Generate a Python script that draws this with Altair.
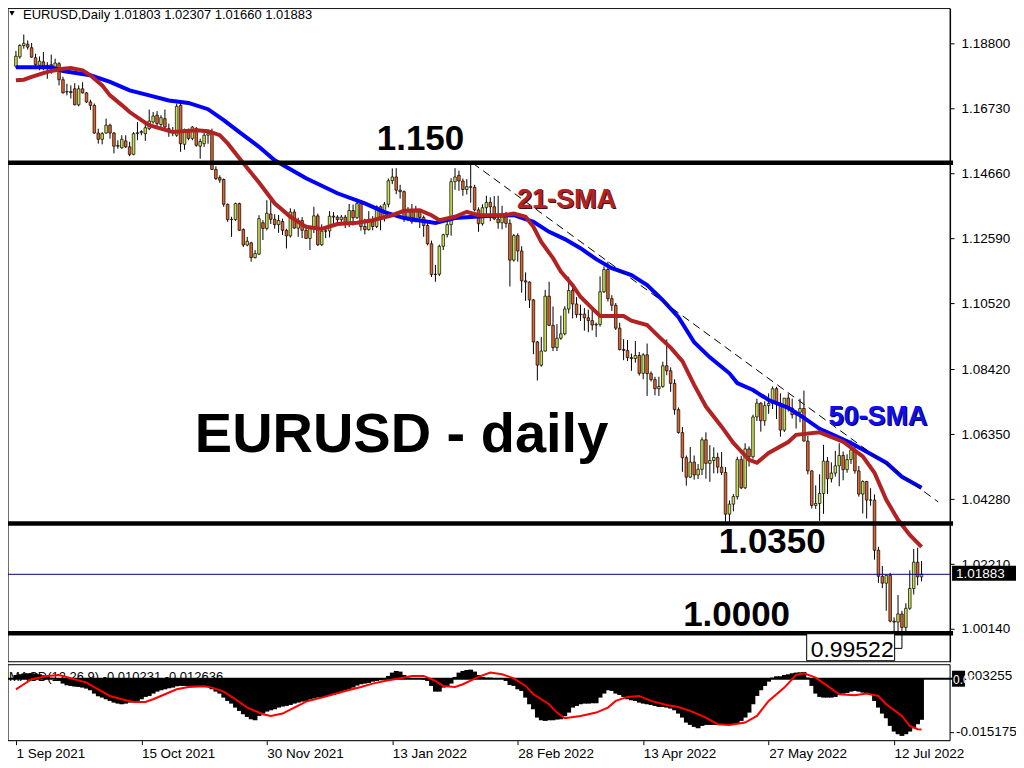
import altair as alt
import pandas as pd

# ---------------- data ----------------
date_labels = ['1 Sep 2021', '15 Oct 2021', '30 Nov 2021', '13 Jan 2022',
               '28 Feb 2022', '13 Apr 2022', '27 May 2022', '12 Jul 2022']
date_tick_idx = [0, 32, 64, 96, 128, 160, 192, 224]

opens = [
 1.1808,1.1838,1.1874,1.1878,1.1867,1.1835,1.1811,1.1822,1.1811,1.1808,
 1.1805,1.1816,1.1765,1.1726,1.1727,1.1736,1.1685,1.1736,1.1723,1.1694,
 1.1683,1.1595,1.1575,1.1595,1.1620,1.1595,1.1553,1.1548,1.1570,1.1551,
 1.1527,1.1593,1.1596,1.1593,1.1609,1.1630,1.1652,1.1622,1.1641,1.1609,
 1.1599,1.1588,1.1683,1.1559,1.1604,1.1578,1.1609,1.1553,1.1561,1.1588,
 1.1593,1.1479,1.1453,1.1447,1.1368,1.1319,1.1319,1.1370,1.1287,1.1238,
 1.1245,1.1198,1.1209,1.1309,1.1291,1.1337,1.1320,1.1303,1.1313,1.1285,
 1.1267,1.1343,1.1292,1.1316,1.1285,1.1259,1.1290,1.1331,1.1239,1.1282,
 1.1283,1.1330,1.1327,1.1319,1.1327,1.1310,1.1348,1.1325,1.1370,1.1297,
 1.1287,1.1312,1.1297,1.1360,1.1326,1.1368,1.1443,1.1455,1.1413,1.1408,
 1.1325,1.1344,1.1312,1.1344,1.1326,1.1300,1.1242,1.1144,1.1145,1.1234,
 1.1271,1.1303,1.1440,1.1460,1.1442,1.1415,1.1424,1.1422,1.1350,1.1306,
 1.1357,1.1374,1.1360,1.1321,1.1309,1.1329,1.1307,1.1190,1.1268,1.1219,
 1.1124,1.1120,1.1063,1.0929,1.0855,1.0900,1.1075,1.0982,1.0911,1.0941,
 1.0955,1.1034,1.1093,1.1050,1.1016,1.1018,1.1006,1.0997,1.0983,1.0985,
 1.1089,1.1160,1.1067,1.1046,1.0973,1.0905,1.0902,1.0879,1.0876,1.0886,
 1.0829,1.0888,1.0828,1.0809,1.0780,1.0787,1.0853,1.0837,1.0797,1.0713,
 1.0640,1.0560,1.0498,1.0546,1.0505,1.0523,1.0617,1.0542,1.0551,1.0561,
 1.0530,1.0513,1.0380,1.0412,1.0436,1.0554,1.0464,1.0588,1.0563,1.0690,
 1.0734,1.0678,1.0726,1.0733,1.0780,1.0734,1.0648,1.0750,1.0718,1.0697,
 1.0705,1.0717,1.0613,1.0518,1.0408,1.0414,1.0446,1.0549,1.0493,1.0511,
 1.0534,1.0567,1.0522,1.0554,1.0585,1.0518,1.0444,1.0484,1.0425,1.0425,
 1.0265,1.0182,1.0160,1.0185,1.0039,1.0036,1.0062,1.0019,1.0080,1.0143,
 1.0227,1.01803]

highs = [
 1.1857,1.1878,1.1909,1.1890,1.1882,1.1848,1.1839,1.1853,1.1821,1.1845,
 1.1832,1.1821,1.1774,1.1752,1.1747,1.1754,1.1747,1.1757,1.1726,1.1701,
 1.1689,1.1609,1.1598,1.1641,1.1625,1.1598,1.1572,1.1588,1.1588,1.1567,
 1.1598,1.1630,1.1604,1.1625,1.1670,1.1662,1.1665,1.1652,1.1670,1.1625,
 1.1614,1.1689,1.1692,1.1609,1.1609,1.1617,1.1614,1.1577,1.1598,1.1604,
 1.1609,1.1489,1.1460,1.1450,1.1370,1.1328,1.1373,1.1373,1.1291,1.1264,
 1.1248,1.1222,1.1333,1.1317,1.1381,1.1383,1.1336,1.1334,1.1322,1.1290,
 1.1355,1.1352,1.1325,1.1327,1.1303,1.1290,1.1360,1.1338,1.1304,1.1299,
 1.1346,1.1343,1.1333,1.1334,1.1334,1.1369,1.1367,1.1386,1.1376,1.1322,
 1.1346,1.1330,1.1364,1.1364,1.1375,1.1450,1.1482,1.1483,1.1430,1.1412,
 1.1359,1.1369,1.1363,1.1346,1.1332,1.1308,1.1252,1.1175,1.1239,1.1274,
 1.1316,1.1451,1.1483,1.1475,1.1450,1.1448,1.1495,1.1430,1.1358,1.1368,
 1.1395,1.1390,1.1394,1.1395,1.1363,1.1344,1.1320,1.1273,1.1275,1.1234,
 1.1151,1.1122,1.1066,1.0932,1.0945,1.1095,1.1121,1.1042,1.0986,1.1013,
 1.1043,1.1137,1.1108,1.1072,1.1048,1.1037,1.1032,1.1036,1.0991,1.1138,
 1.1170,1.1185,1.1078,1.1053,1.0990,1.0938,1.0935,1.0892,1.0932,1.0897,
 1.0893,1.0924,1.0835,1.0818,1.0818,1.0866,1.0937,1.0848,1.0810,1.0720,
 1.0658,1.0567,1.0594,1.0567,1.0540,1.0625,1.0641,1.0600,1.0593,1.0576,
 1.0578,1.0530,1.0424,1.0444,1.0563,1.0566,1.0606,1.0596,1.0697,1.0748,
 1.0737,1.0740,1.0765,1.0787,1.0786,1.0765,1.0750,1.0764,1.0748,1.0710,
 1.0748,1.0774,1.0630,1.0520,1.0472,1.0507,1.0601,1.0562,1.0545,1.0582,
 1.0606,1.0580,1.0571,1.0615,1.0606,1.0534,1.0488,1.0486,1.0463,1.0443,
 1.0276,1.0215,1.0186,1.0193,1.0051,1.0122,1.0072,1.0096,1.0201,1.0269,
 1.0273,1.02307]

lows = [
 1.1802,1.1832,1.1864,1.1861,1.1835,1.1805,1.1795,1.1795,1.1768,1.1784,
 1.1795,1.1747,1.1721,1.1715,1.1705,1.1683,1.1680,1.1721,1.1691,1.1669,
 1.1593,1.1561,1.1559,1.1593,1.1577,1.1530,1.1545,1.1545,1.1547,1.1521,
 1.1524,1.1572,1.1588,1.1570,1.1604,1.1625,1.1614,1.1614,1.1609,1.1583,
 1.1585,1.1583,1.1535,1.1542,1.1572,1.1572,1.1551,1.1513,1.1551,1.1561,
 1.1477,1.1445,1.1436,1.1360,1.1312,1.1264,1.1315,1.1283,1.1232,1.1234,
 1.1185,1.1195,1.1206,1.1254,1.1285,1.1305,1.1290,1.1277,1.1270,1.1227,
 1.1262,1.1290,1.1264,1.1260,1.1258,1.1222,1.1276,1.1235,1.1235,1.1260,
 1.1262,1.1305,1.1305,1.1310,1.1292,1.1295,1.1300,1.1321,1.1284,1.1272,
 1.1284,1.1285,1.1292,1.1285,1.1313,1.1358,1.1432,1.1400,1.1386,1.1312,
 1.1314,1.1306,1.1312,1.1292,1.1264,1.1237,1.1136,1.1121,1.1139,1.1222,
 1.1262,1.1268,1.1414,1.1411,1.1395,1.1399,1.1373,1.1345,1.1280,1.1300,
 1.1334,1.1314,1.1318,1.1290,1.1288,1.1293,1.1106,1.1185,1.1185,1.1086,
 1.1060,1.1037,1.0890,1.0806,1.0850,1.0898,1.0980,1.0900,1.0900,1.0936,
 1.0950,1.1020,1.1004,1.1006,1.0996,1.0965,1.0960,1.0966,1.0945,1.0978,
 1.1085,1.1058,1.1028,1.0967,1.0902,1.0871,1.0868,1.0837,1.0863,1.0822,
 1.0810,1.0757,1.0803,1.0759,1.0757,1.0783,1.0823,1.0770,1.0697,1.0637,
 1.0515,1.0471,1.0496,1.0490,1.0492,1.0505,1.0493,1.0483,1.0510,1.0510,
 1.0505,1.0354,1.0350,1.0389,1.0427,1.0460,1.0460,1.0532,1.0557,1.0677,
 1.0643,1.0662,1.0700,1.0715,1.0683,1.0627,1.0642,1.0707,1.0685,1.0653,
 1.0673,1.0612,1.0507,1.0398,1.0397,1.0359,1.0381,1.0444,1.0481,1.0500,
 1.0469,1.0488,1.0512,1.0540,1.0509,1.0436,1.0382,1.0366,1.0407,1.0235,
 1.0161,1.0144,1.0072,1.0035,0.9999,0.9998,0.9952,1.0007,1.0075,1.0124,
 1.0153,1.01660]

closes = [
 1.1840,1.1874,1.1881,1.1869,1.1837,1.1813,1.1824,1.1809,1.1808,1.1813,
 1.1818,1.1765,1.1723,1.1727,1.1724,1.1685,1.1736,1.1723,1.1694,1.1683,
 1.1595,1.1575,1.1593,1.1620,1.1595,1.1553,1.1555,1.1575,1.1551,1.1527,
 1.1593,1.1596,1.1600,1.1612,1.1633,1.1649,1.1625,1.1644,1.1614,1.1599,
 1.1603,1.1680,1.1561,1.1604,1.1578,1.1614,1.1556,1.1568,1.1588,1.1593,
 1.1479,1.1450,1.1445,1.1368,1.1319,1.1320,1.1370,1.1285,1.1238,1.1250,
 1.1198,1.1211,1.1322,1.1291,1.1339,1.1320,1.1303,1.1316,1.1285,1.1267,
 1.1343,1.1292,1.1316,1.1285,1.1259,1.1290,1.1331,1.1239,1.1282,1.1283,
 1.1330,1.1327,1.1319,1.1327,1.1310,1.1348,1.1325,1.1370,1.1297,1.1287,
 1.1312,1.1297,1.1360,1.1326,1.1368,1.1443,1.1455,1.1413,1.1408,1.1325,
 1.1344,1.1312,1.1344,1.1326,1.1300,1.1242,1.1144,1.1145,1.1234,1.1271,
 1.1303,1.1440,1.1455,1.1442,1.1415,1.1424,1.1422,1.1350,1.1306,1.1357,
 1.1374,1.1360,1.1321,1.1309,1.1329,1.1307,1.1190,1.1268,1.1219,1.1124,
 1.1120,1.1063,1.0929,1.0855,1.0900,1.1075,1.0982,1.0911,1.0941,1.0955,
 1.1034,1.1093,1.1050,1.1016,1.1018,1.1006,1.0997,1.0983,1.0985,1.1089,
 1.1160,1.1067,1.1046,1.0973,1.0905,1.0902,1.0879,1.0876,1.0886,1.0829,
 1.0888,1.0828,1.0809,1.0780,1.0787,1.0853,1.0837,1.0797,1.0713,1.0640,
 1.0560,1.0498,1.0546,1.0505,1.0523,1.0617,1.0542,1.0551,1.0561,1.0530,
 1.0513,1.0380,1.0412,1.0436,1.0554,1.0464,1.0588,1.0563,1.0690,1.0734,
 1.0678,1.0726,1.0733,1.0780,1.0734,1.0648,1.0750,1.0718,1.0697,1.0705,
 1.0717,1.0613,1.0518,1.0408,1.0414,1.0446,1.0549,1.0493,1.0511,1.0534,
 1.0567,1.0522,1.0554,1.0585,1.0518,1.0444,1.0484,1.0425,1.0425,1.0265,
 1.0182,1.0160,1.0185,1.0039,1.0036,1.0062,1.0019,1.0080,1.0143,1.0227,
 1.0180,1.01883]

sma21_idx = [0,2,4,7,9,12,14,17,19,22,24,27,29,32,34,37,40,46,49,52,54,57,62,66,70,74,78,82,87,91,
             96,99,103,106,108,112,115,118,124,127,130,132,134,137,139,142,144,147,149,152,
             155,157,161,164,167,170,173,176,180,183,187,189,192,197,199,205,211,216,219,222,225,228,231]
sma21_val = [1.1763,1.1765,1.1774,1.1786,1.1793,1.1800,1.1802,1.1795,1.1779,1.1747,
             1.1715,1.1684,1.1662,1.1636,1.1620,1.1609,1.1598,1.1604,1.1601,1.1588,
             1.1562,1.1515,1.1437,1.1371,1.1328,1.1296,1.1289,1.1305,1.1309,1.1317,
             1.1333,1.1347,1.1349,1.1333,1.1317,1.1328,1.1344,1.1333,1.1333,1.1338,
             1.1328,1.1296,1.1248,1.1196,1.1153,1.1110,1.1073,1.1036,1.1012,1.1012,
             1.1012,1.0997,1.0983,1.0946,1.0911,1.0868,1.0792,1.0723,1.0659,1.0607,
             1.0553,1.0544,1.0575,1.0610,1.0633,1.0641,1.0611,1.0564,1.0512,1.0426,
             1.0362,1.0314,1.0276]

sma50_idx = [0,9,12,19,24,29,34,39,44,49,53,57,62,66,74,82,89,94,99,107,
             112,119,127,132,136,140,144,148,152,157,161,165,169,173,177,182,184,188,192,197,
             201,205,209,213,217,222,226,231]
sma50_val = [1.1805,1.1805,1.1793,1.1779,1.1758,1.1731,1.1715,1.1699,1.1691,1.1671,
             1.1636,1.1598,1.1551,1.1508,1.1451,1.1403,1.1371,1.1343,1.1324,1.1308,
             1.1324,1.1330,1.1333,1.1312,1.1280,1.1257,1.1228,1.1193,1.1164,1.1142,
             1.1110,1.1062,1.1008,1.0928,1.0880,1.0829,1.0798,1.0776,1.0744,1.0719,
             1.0687,1.0652,1.0630,1.0607,1.0579,1.0544,1.0499,1.0464]

macd_hist = [
 0.00095,0.00112,0.00129,0.00137,0.00137,0.00129,0.00112,0.00087,0.00062,0.00029,
 0.00004,-0.00054,-0.00120,-0.00162,-0.00178,-0.00195,-0.00203,-0.00220,-0.00245,-0.00286,
 -0.00369,-0.00436,-0.00469,-0.00511,-0.00552,-0.00594,-0.00619,-0.00635,-0.00619,-0.00594,
 -0.00569,-0.00552,-0.00511,-0.00452,-0.00428,-0.00369,-0.00320,-0.00286,-0.00262,-0.00237,
 -0.00220,-0.00187,-0.00178,-0.00178,-0.00187,-0.00178,-0.00178,-0.00187,-0.00187,-0.00203,
 -0.00262,-0.00320,-0.00369,-0.00469,-0.00552,-0.00619,-0.00718,-0.00801,-0.00884,-0.00951,
 -0.01009,-0.01034,-0.00926,-0.00868,-0.00818,-0.00785,-0.00760,-0.00718,-0.00693,-0.00677,
 -0.00652,-0.00619,-0.00594,-0.00569,-0.00552,-0.00519,-0.00494,-0.00469,-0.00469,-0.00444,
 -0.00419,-0.00403,-0.00369,-0.00320,-0.00286,-0.00253,-0.00220,-0.00170,-0.00137,-0.00120,
 -0.00104,-0.00071,-0.00054,-0.00037,-0.00021,0.00071,0.00154,0.00195,0.00179,0.00095,
 0.00029,0.00012,0.00004,-0.00004,-0.00021,-0.00054,-0.00178,-0.00320,-0.00320,-0.00220,
 -0.00203,-0.00120,0.00046,0.00154,0.00195,0.00220,0.00228,0.00179,0.00095,0.00046,
 0.00029,0.00029,0.00012,-0.00004,-0.00004,-0.00054,-0.00154,-0.00178,-0.00262,-0.00303,
 -0.00469,-0.00635,-0.00760,-0.00967,-0.01034,-0.01050,-0.01034,-0.01034,-0.01017,-0.01009,
 -0.00934,-0.00843,-0.00718,-0.00677,-0.00635,-0.00619,-0.00619,-0.00610,-0.00610,-0.00469,
 -0.00369,-0.00286,-0.00303,-0.00369,-0.00403,-0.00452,-0.00511,-0.00535,-0.00552,-0.00594,
 -0.00619,-0.00635,-0.00652,-0.00677,-0.00702,-0.00702,-0.00718,-0.00743,-0.00785,-0.00868,
 -0.00967,-0.01092,-0.01150,-0.01200,-0.01233,-0.01175,-0.01150,-0.01150,-0.01150,-0.01150,
 -0.01150,-0.01150,-0.01150,-0.01150,-0.01117,-0.01050,-0.00967,-0.00843,-0.00635,-0.00428,
 -0.00286,-0.00178,-0.00071,0.00029,0.00062,0.00062,0.00095,0.00112,0.00137,0.00154,
 0.00162,0.00170,0.00029,-0.00178,-0.00369,-0.00452,-0.00469,-0.00469,-0.00469,-0.00452,
 -0.00403,-0.00369,-0.00353,-0.00320,-0.00303,-0.00320,-0.00345,-0.00369,-0.00403,-0.00552,
 -0.00718,-0.00868,-0.00984,-0.01175,-0.01316,-0.01382,-0.01424,-0.01382,-0.01316,-0.01233,
 -0.01133,-0.01023]

signal_idx = [0,2,4,8,11,14,18,21,24,28,30,33,35,38,41,44,48,50,53,56,
              59,63,65,68,71,74,78,81,84,88,91,94,98,101,104,107,109,112,114,118,
              121,124,127,130,132,136,138,140,144,148,151,153,156,159,162,166,169,172,176,179,
              182,186,189,192,196,199,201,204,207,210,214,217,220,222,226,228,230,231]
signal_val = [-0.00262,-0.00137,-0.00012,0.00071,0.00095,0.00012,-0.00095,-0.00262,-0.00428,-0.00535,
              -0.00577,-0.00577,-0.00511,-0.00386,-0.00262,-0.00203,-0.00187,-0.00220,-0.00320,-0.00511,
              -0.00718,-0.00884,-0.00926,-0.00868,-0.00718,-0.00569,-0.00469,-0.00386,-0.00303,-0.00203,
              -0.00120,-0.00054,0.00012,0.00071,0.00071,-0.00054,-0.00178,-0.00203,-0.00137,0.00046,
              0.00154,0.00112,0.00012,-0.00178,-0.00386,-0.00635,-0.00843,-0.00984,-0.00926,-0.00843,
              -0.00718,-0.00552,-0.00452,-0.00428,-0.00552,-0.00652,-0.00702,-0.00801,-0.00967,-0.01133,
              -0.01150,-0.01092,-0.00926,-0.00552,-0.00220,0.00095,0.00137,0.00029,-0.00178,-0.00386,
              -0.00411,-0.00369,-0.00428,-0.00635,-0.00926,-0.01175,-0.01258,-0.01264]

price_ticks = [1.18800, 1.16730, 1.14660, 1.12590, 1.10520, 1.08420, 1.06350, 1.04280, 1.02210, 1.00140]
level_prices = [1.150, 1.035, 1.000]
trend_idx = [116.5, 235.25]
trend_val = [1.1499, 1.0419]
last_price = 1.01883
low_price = 0.99522
macd_max = 0.003255
macd_min = -0.015175
header_text = "EURUSD,Daily  1.01803 1.02307 1.01660 1.01883"
macd_text = "MACD(12,26,9) -0.010231 -0.012636"

# ---------------- chart ----------------
FONT = "Liberation Sans"
BULL = "#cde052"
BEAR = "#e0642a"
W, H = 943, 733
MAIN_H = 654

candles = pd.DataFrame({"i": list(range(len(closes))), "o": opens, "h": highs,
                        "l": lows, "c": closes, "m": macd_hist})
candles["dir"] = ["up" if c >= o else "down" for o, c in zip(opens, closes)]

XS = alt.Scale(domain=[-0.75, 237.0], nice=False, zero=False)
YP = alt.Scale(domain=[0.99096, 1.19924], range=[MAIN_H, 0], nice=False, zero=False)
YM = alt.Scale(domain=[macd_min, macd_max], range=[732, 658], nice=False, zero=False)

label_expr = "[" + ",".join("'%s'" % s for s in date_labels) + "][round(datum.value / 32)]"
x_axis = alt.Axis(values=date_tick_idx, labelExpr=label_expr, labelAlign="left",
                  labelFont=FONT, labelFontSize=13.5, labelColor="black",
                  tickColor="black", tickSize=4, labelPadding=2, domain=False,
                  grid=False, title=None, labelOverlap=False, labelFlush=False)
price_axis = alt.Axis(orient="right", values=price_ticks, format=".5f",
                      labelFont=FONT, labelFontSize=13.5, labelColor="black",
                      tickColor="black", tickSize=4, labelPadding=7,
                      domainColor="black", grid=False, title=None,
                      labelOverlap=False, labelFlush=False)

wick = alt.Chart(candles).mark_rule(color="black", strokeWidth=1).encode(
    x=alt.X("i:Q", scale=XS, axis=x_axis),
    y=alt.Y("l:Q", scale=YP, axis=price_axis), y2="h:Q")
body = alt.Chart(candles).mark_bar(size=2.6, stroke="black", strokeWidth=0.7).encode(
    x=alt.X("i:Q", scale=XS), y=alt.Y("o:Q", scale=YP), y2="c:Q",
    fill=alt.Fill("dir:N", scale=alt.Scale(domain=["up", "down"], range=[BULL, BEAR]), legend=None))

sma50 = alt.Chart(pd.DataFrame({"i": sma50_idx, "v": sma50_val})).mark_line(
    color="#0000ff", strokeWidth=4).encode(x=alt.X("i:Q", scale=XS), y=alt.Y("v:Q", scale=YP))
sma21 = alt.Chart(pd.DataFrame({"i": sma21_idx, "v": sma21_val})).mark_line(
    color="#b22222", strokeWidth=4).encode(x=alt.X("i:Q", scale=XS), y=alt.Y("v:Q", scale=YP))
trend = alt.Chart(pd.DataFrame({"i": trend_idx, "v": trend_val})).mark_line(
    color="black", strokeWidth=1, strokeDash=[8, 5]).encode(
    x=alt.X("i:Q", scale=XS), y=alt.Y("v:Q", scale=YP))
levels = alt.Chart(pd.DataFrame({"p": level_prices})).mark_rule(
    color="black", strokeWidth=4.5).encode(
    y=alt.Y("p:Q", scale=YP), x=alt.value(0), x2=alt.value(946))
cur_line = alt.Chart(pd.DataFrame({"p": [last_price]})).mark_rule(
    color="#000080", strokeWidth=1).encode(
    y=alt.Y("p:Q", scale=YP), x=alt.value(0), x2=alt.value(943))


def label(text, i, p, size, color="black", weight="bold", shadow=None):
    layers = []
    if shadow:
        layers.append(alt.Chart(pd.DataFrame({"t": [text]})).mark_text(
            align="left", baseline="alphabetic", font=FONT, fontSize=size,
            fontWeight=weight, color=shadow, dx=1.2, dy=1.2).encode(
            x=alt.X(datum=i, scale=XS), y=alt.Y(datum=p, scale=YP), text="t:N"))
    layers.append(alt.Chart(pd.DataFrame({"t": [text]})).mark_text(
        align="left", baseline="alphabetic", font=FONT, fontSize=size,
        fontWeight=weight, color=color).encode(
        x=alt.X(datum=i, scale=XS), y=alt.Y(datum=p, scale=YP), text="t:N"))
    return layers


texts = []
texts += label("1.150", 92.03, 1.1540, 35)
texts += label("21-SMA", 127.83, 1.13555, 27, color="#b22222", shadow="#4a0d0d")
texts += label("EURUSD - daily", 45.64, 1.05784, 56)
texts += label("50-SMA", 207.25, 1.06644, 27, color="#1010ee", shadow="#000050")
texts += label("1.0350", 179.27, 1.02568, 35)
texts += label("1.0000", 170.19, 1.00243, 35)

low_box = alt.Chart(pd.DataFrame({"a": [0]})).mark_rect(
    fill="white", stroke="black", strokeWidth=1).encode(
    x=alt.X(datum=201.7, scale=XS), x2=alt.X2(datum=224.14),
    y=alt.Y(datum=0.99988, scale=YP), y2=alt.Y2(datum=0.99128))
low_link = alt.Chart(pd.DataFrame({"i": [224.14, 226.0], "v": [low_price, low_price]})).mark_line(
    color="black", strokeWidth=1).encode(x=alt.X("i:Q", scale=XS), y=alt.Y("v:Q", scale=YP))
low_text = label("%.5f" % low_price, 202.71, 0.99257, 23, weight="normal")

main = alt.layer(wick, body, sma50, sma21, trend, levels, cur_line,
                 *texts, low_box, low_link, *low_text)

# MACD panel
macd_label = alt.Chart(pd.DataFrame({"t": [macd_text]})).mark_text(
    align="left", baseline="alphabetic", font=FONT, fontSize=13, color="black").encode(
    x=alt.value(1), y=alt.value(673), text="t:N")
hist = alt.Chart(candles).mark_bar(size=4.8, color="black").encode(
    x=alt.X("i:Q", scale=XS), y=alt.Y("m:Q", scale=YM, axis=None), y2=alt.Y2(datum=0))
zero = alt.Chart(pd.DataFrame({"z": [0.0]})).mark_rule(color="black", strokeWidth=2).encode(
    y=alt.Y("z:Q", scale=YM, axis=None), x=alt.value(0), x2=alt.value(946))
signal = alt.Chart(pd.DataFrame({"i": signal_idx, "v": signal_val})).mark_line(
    color="#ff0000", strokeWidth=2).encode(
    x=alt.X("i:Q", scale=XS), y=alt.Y("v:Q", scale=YM, axis=None))
macd = alt.layer(macd_label, hist, zero, signal)

# decorations: panel frames, header, price tags
one = pd.DataFrame({"a": [0]})
frame_main = alt.Chart(one).mark_rect(fillOpacity=0, stroke="black", strokeWidth=1).encode(
    x=alt.value(0), x2=alt.value(W), y=alt.value(0), y2=alt.value(MAIN_H))
frame_macd = alt.Chart(one).mark_rect(fillOpacity=0, stroke="black", strokeWidth=1).encode(
    x=alt.value(0), x2=alt.value(W), y=alt.value(657), y2=alt.value(H))
header = alt.Chart(pd.DataFrame({"t": [header_text]})).mark_text(
    align="left", baseline="alphabetic", font=FONT, fontSize=13, color="black").encode(
    x=alt.value(15), y=alt.value(11), text="t:N")
tri = alt.Chart(one).mark_point(shape="triangle-down", filled=True, color="black",
                                size=28, opacity=1).encode(x=alt.value(4), y=alt.value(5))
price_tag = alt.Chart(one).mark_rect(color="black").encode(
    x=alt.value(945), x2=alt.value(1009), y=alt.value(558), y2=alt.value(573))
price_tag_txt = alt.Chart(pd.DataFrame({"t": ["%.5f" % last_price]})).mark_text(
    align="left", baseline="middle", font=FONT, fontSize=13.5, color="white").encode(
    x=alt.value(949), y=alt.value(566), text="t:N")
macd_ticks = alt.Chart(pd.DataFrame({"t": ["%.6f" % macd_max, "%.6f" % macd_min],
                                     "yy": [668, 724]})).mark_text(
    align="left", baseline="middle", font=FONT, fontSize=13.5, color="black").encode(
    x=alt.value(949), y=alt.Y("yy:Q", scale=None), text="t:N")
macd_tick_mark = alt.Chart(one).mark_rule(color="black").encode(
    x=alt.value(943), x2=alt.value(947), y=alt.value(725))
zero_tag = alt.Chart(one).mark_rect(color="black").encode(
    x=alt.value(945), x2=alt.value(958), y=alt.value(663), y2=alt.value(679))
zero_tag_txt = alt.Chart(pd.DataFrame({"t": ["0.00"]})).mark_text(
    align="left", baseline="middle", font=FONT, fontSize=12, color="white").encode(
    x=alt.value(946), y=alt.value(672), text="t:N")

deco = alt.layer(frame_main, frame_macd, header, tri, macd_ticks, macd_tick_mark,
                 zero_tag, zero_tag_txt, price_tag, price_tag_txt)

chart = alt.layer(main, macd, deco).resolve_scale(y="independent").properties(
    width=W, height=H,
    autosize=alt.AutoSizeParams(type="none"),
    padding={"left": 0, "top": 0, "right": 66, "bottom": 27},
).configure_view(stroke=None).configure(background="white")

chart.save("out.html", embed_options={"renderer": "svg", "actions": False})
